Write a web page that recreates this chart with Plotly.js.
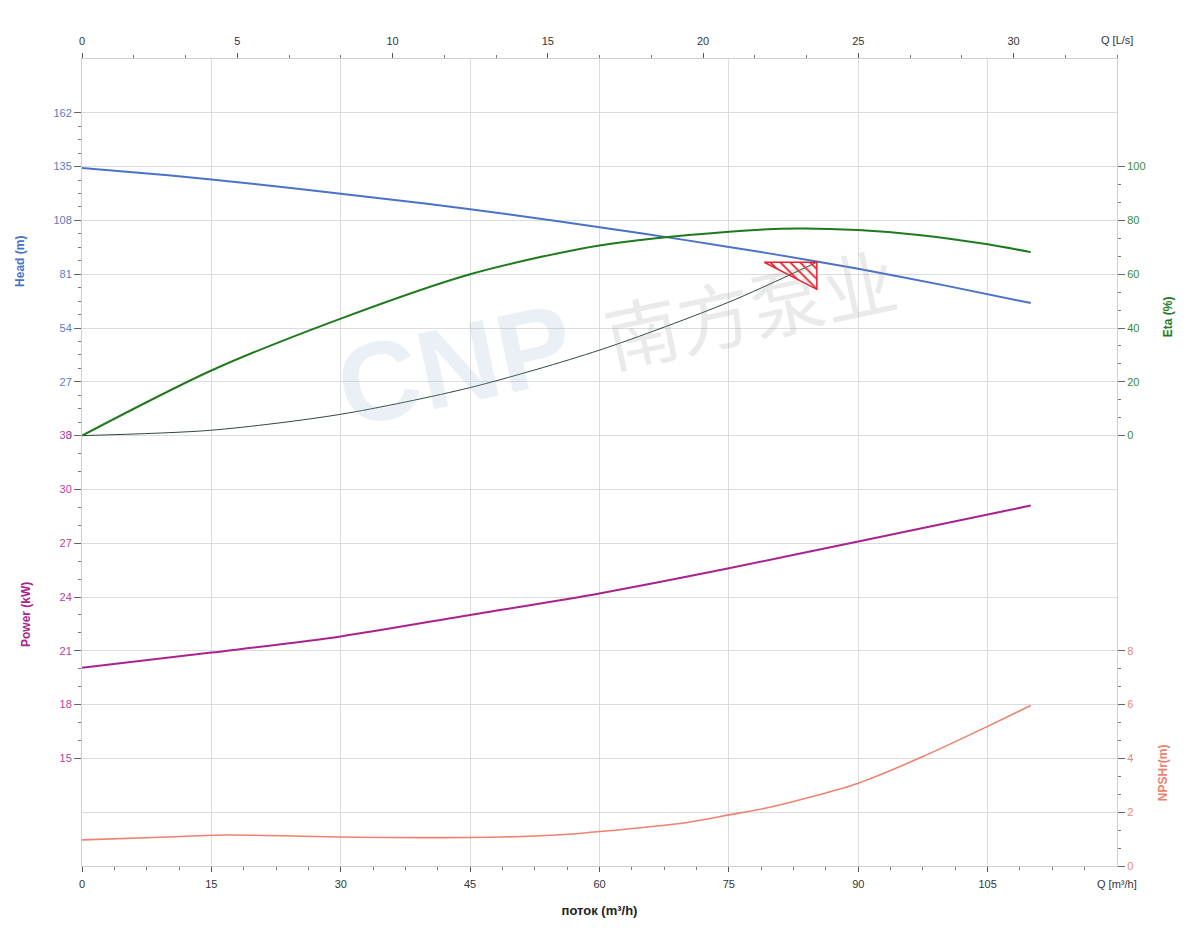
<!DOCTYPE html>
<html>
<head>
<meta charset="utf-8">
<script src="https://cdn.plot.ly/plotly-3.0.1.min.js"></script>
<style>html,body{margin:0;padding:0;background:#fff;}#chart{width:1200px;height:950px;}</style>
</head>
<body>
<div id="chart"></div>
<script>
// ---- data ----
const qHead = [0, 10, 20, 30, 40, 50, 60, 70, 80, 90, 100, 110];
const head  = [134.3, 130.6, 126.3, 121.4, 116.3, 110.7, 104.6, 98.1, 91.2, 83.7, 75.4, 66.5];

const qEta = [0, 15, 30, 45, 60, 75, 83, 90, 97, 105, 110];
const eta  = [0, 24.2, 43.5, 60.0, 70.7, 75.8, 77.0, 76.4, 74.6, 71.1, 68.2];

const qPower = [0, 15, 30, 45, 60, 75, 90, 110];
const power  = [20.05, 20.9, 21.8, 23.0, 24.2, 25.6, 27.1, 29.1];

const qNpsh = [0, 10, 17, 30, 45, 55, 60, 70, 75, 80, 90, 97.5, 105, 110];
const npsh  = [0.97, 1.08, 1.15, 1.08, 1.06, 1.15, 1.28, 1.61, 1.9, 2.2, 3.08, 4.07, 5.19, 5.97];

const qSystem = [0, 15, 30, 45, 60, 75, 85.2];
const hSystem = [0, 2.7, 10.7, 24.1, 42.9, 67.0, 87.0];

const operatingPoint = [85.2, 87.0];

const qTicks    = [0, 15, 30, 45, 60, 75, 90, 105];
const lsTicks   = [0, 5, 10, 15, 20, 25, 30];
const headTicks = [0, 27, 54, 81, 108, 135, 162];
const powerTicks= [15, 18, 21, 24, 27, 30, 33];
const etaTicks  = [0, 20, 40, 60, 80, 100];
const npshTicks = [0, 2, 4, 6, 8];

// ---- styling ----
const FONT = 'Liberation Sans, Arial, sans-serif';
const GRID = '#dcdcdc';
const AXL = '#cfcfcf';
const cHead = '#4a72c8', cHeadT = '#5a7cc0';
const cEta = '#1f7a1f', cEtaT = '#3a8a3a';
const cPow = '#a8238f', cPowT = '#b4449c';
const cNp = '#ee8270', cNpT = '#e8897a';

function minorVals(major, parts) {
  const out = [];
  for (let i = 0; i < major.length - 1; i++) {
    const step = (major[i + 1] - major[i]) / parts;
    for (let k = 1; k < parts; k++) out.push(major[i] + k * step);
  }
  return out;
}

// red hatched marker at operating point (marker size in axis units)
const markDQ = 6.1, markDH = 13.6;
const triX = [operatingPoint[0] - markDQ, operatingPoint[0], operatingPoint[0], operatingPoint[0] - markDQ];
const triY = [operatingPoint[1], operatingPoint[1], operatingPoint[1] - markDH, operatingPoint[1]];

const SM = 0.8;
const traces = [
  {x: [0, 120], y: [0, 15], xaxis: 'x', yaxis: 'y', mode: 'none', hoverinfo: 'skip', showlegend: false},
  {x: [0, 33.33], y: [0, 15], xaxis: 'x2', yaxis: 'y', mode: 'none', hoverinfo: 'skip', showlegend: false},
  {x: qSystem, y: hSystem, xaxis: 'x', yaxis: 'y2', mode: 'lines', line: {color: '#2e4a3a', width: 1, shape: 'spline', smoothing: SM}, showlegend: false},
  {x: qHead, y: head, xaxis: 'x', yaxis: 'y2', mode: 'lines', line: {color: cHead, width: 2, shape: 'spline', smoothing: SM}, showlegend: false},
  {x: qEta, y: eta, xaxis: 'x', yaxis: 'y3', mode: 'lines', line: {color: cEta, width: 2, shape: 'spline', smoothing: SM}, showlegend: false},
  {x: qPower, y: power, xaxis: 'x', yaxis: 'y4', mode: 'lines', line: {color: cPow, width: 2, shape: 'spline', smoothing: SM}, showlegend: false},
  {x: qNpsh, y: npsh, xaxis: 'x', yaxis: 'y5', mode: 'lines', line: {color: cNp, width: 1.6, shape: 'spline', smoothing: SM}, showlegend: false},
  {x: triX, y: triY, xaxis: 'x', yaxis: 'y2', mode: 'lines', fill: 'toself', fillcolor: 'rgba(0,0,0,0)',
   fillpattern: {shape: '\\', fgcolor: '#e8202a', bgcolor: 'rgba(0,0,0,0)', size: 7, solidity: 0.25},
   line: {color: '#e8202a', width: 1.5}, showlegend: false, hoverinfo: 'skip'}
];

const tickFont = (c) => ({family: FONT, size: 11, color: c});

const layout = {
  width: 1200, height: 950,
  margin: {l: 82, r: 83, t: 59, b: 84},
  paper_bgcolor: '#ffffff', plot_bgcolor: '#ffffff',
  showlegend: false,
  font: {family: FONT, size: 11, color: '#333'},
  xaxis: {
    range: [0, 120], anchor: 'y', tickmode: 'array', tickvals: qTicks,
    showgrid: true, gridcolor: GRID, gridwidth: 1, zeroline: false,
    showline: true, linecolor: AXL, linewidth: 1,
    ticks: 'outside', ticklen: 5, tickcolor: '#555', tickwidth: 1, ticklabelstandoff: 3,
    minor: {tickmode: 'array', tickvals: minorVals([0,15,30,45,60,75,90,105,120], 4), ticks: 'outside', ticklen: 3, tickcolor: '#777', showgrid: false},
    tickfont: tickFont('#333'),
    title: {text: '<b>поток (m³/h)</b>', font: {family: FONT, size: 13, color: '#222'}, standoff: 16}
  },
  xaxis2: {
    range: [0, 120 / 3.6], overlaying: 'x', side: 'top', anchor: 'y',
    tickmode: 'array', tickvals: lsTicks, showgrid: false, zeroline: false,
    showline: true, linecolor: AXL, linewidth: 1,
    ticks: 'outside', ticklen: 5, tickcolor: '#555', ticklabelstandoff: 4,
    minor: {tickmode: 'array', tickvals: minorVals([0,5,10,15,20,25,30,35], 3), ticks: 'outside', ticklen: 3, tickcolor: '#777', showgrid: false},
    tickfont: tickFont('#333')
  },
  yaxis: {
    range: [0, 15], dtick: 1, domain: [0, 1],
    showgrid: true, gridcolor: GRID, zeroline: false,
    showticklabels: false, ticks: '',
    showline: true, mirror: true, linecolor: AXL, linewidth: 1
  },
  yaxis2: {
    range: [-216, 189], overlaying: 'y', side: 'left', anchor: 'x',
    tickmode: 'array', tickvals: headTicks, showgrid: false, zeroline: false, showline: false,
    ticks: 'outside', ticklen: 7, tickcolor: '#666',
    minor: {tickmode: 'array', tickvals: minorVals(headTicks, 4), ticks: 'outside', ticklen: 3, tickcolor: '#777', showgrid: false},
    tickfont: tickFont(cHeadT)
  },
  yaxis3: {
    range: [-160, 140], overlaying: 'y', side: 'right', anchor: 'x',
    tickmode: 'array', tickvals: etaTicks, showgrid: false, zeroline: false, showline: false,
    ticks: 'outside', ticklen: 7, tickcolor: '#666',
    minor: {tickmode: 'array', tickvals: minorVals(etaTicks, 3), ticks: 'outside', ticklen: 3, tickcolor: '#777', showgrid: false},
    tickfont: tickFont(cEtaT)
  },
  yaxis4: {
    range: [9, 54], overlaying: 'y', side: 'left', anchor: 'x',
    tickmode: 'array', tickvals: powerTicks, showgrid: false, zeroline: false, showline: false,
    ticks: 'outside', ticklen: 7, tickcolor: '#666',
    minor: {tickmode: 'array', tickvals: minorVals(powerTicks, 3), ticks: 'outside', ticklen: 3, tickcolor: '#777', showgrid: false},
    tickfont: tickFont(cPowT)
  },
  yaxis5: {
    range: [0, 30], overlaying: 'y', side: 'right', anchor: 'x',
    tickmode: 'array', tickvals: npshTicks, showgrid: false, zeroline: false, showline: false,
    ticks: 'outside', ticklen: 7, tickcolor: '#666',
    minor: {tickmode: 'array', tickvals: minorVals(npshTicks, 3), ticks: 'outside', ticklen: 3, tickcolor: '#777', showgrid: false},
    tickfont: tickFont(cNpT)
  },
  annotations: [
    {text: '<b>CNP</b>', xref: 'paper', yref: 'paper', x: 0.36, y: 0.62, showarrow: false, textangle: -12,
     font: {family: 'Liberation Sans, Arial', size: 112, color: 'rgba(150,180,210,0.2)'}},
    {text: '南方泵业', xref: 'paper', yref: 'paper', x: 0.645, y: 0.80, showarrow: false, textangle: -12,
     font: {family: 'Noto Sans CJK SC', size: 74, color: 'rgba(150,150,150,0.2)'}},
    {text: 'Q [L/s]', xref: 'paper', yref: 'paper', x: 1, y: 1, yshift: 19, showarrow: false, xanchor: 'center', yanchor: 'middle',
     font: {family: FONT, size: 11, color: '#333'}},
    {text: 'Q [m³/h]', xref: 'paper', yref: 'paper', x: 1, y: 0, yshift: -18, showarrow: false, xanchor: 'center', yanchor: 'middle',
     font: {family: FONT, size: 11, color: '#333'}},
    {text: '<b>Head (m)</b>', xref: 'paper', yref: 'paper', x: 0, xshift: -62, y: 0.7485, showarrow: false, textangle: -90,
     xanchor: 'center', yanchor: 'middle', font: {family: FONT, size: 12, color: cHead}},
    {text: '<b>Power (kW)</b>', xref: 'paper', yref: 'paper', x: 0, xshift: -56, y: 0.311, showarrow: false, textangle: -90,
     xanchor: 'center', yanchor: 'middle', font: {family: FONT, size: 12, color: cPow}},
    {text: '<b>Eta (%)</b>', xref: 'paper', yref: 'paper', x: 1, xshift: 51, y: 0.680, showarrow: false, textangle: -90,
     xanchor: 'center', yanchor: 'middle', font: {family: FONT, size: 12, color: cEta}},
    {text: '<b>NPSHr(m)</b>', xref: 'paper', yref: 'paper', x: 1, xshift: 46, y: 0.115, showarrow: false, textangle: -90,
     xanchor: 'center', yanchor: 'middle', font: {family: FONT, size: 12, color: cNp}}
  ]
};

Plotly.newPlot('chart', traces, layout, {displayModeBar: false, staticPlot: true});
</script>
</body>
</html>
